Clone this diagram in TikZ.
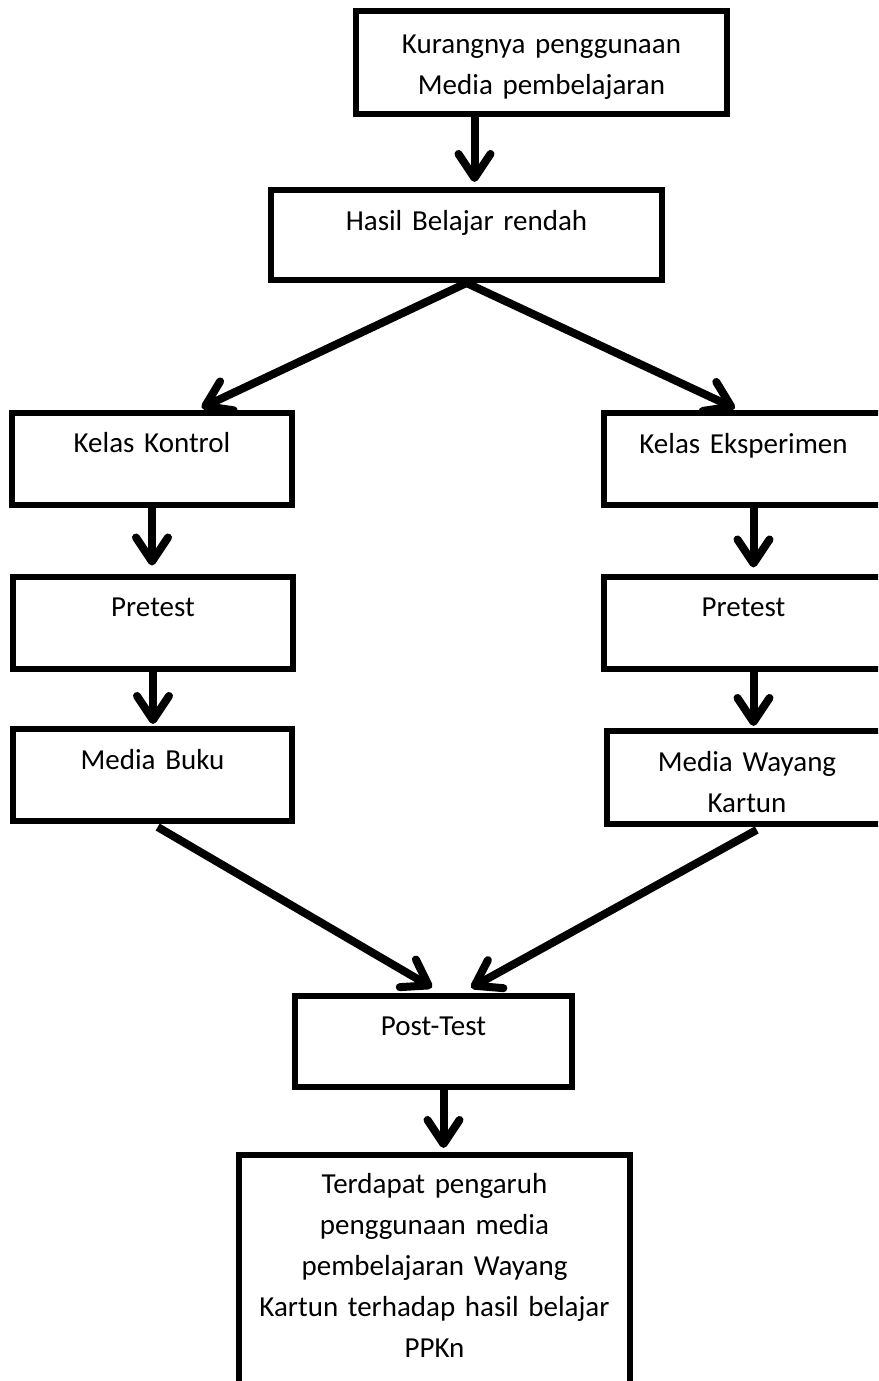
\documentclass[tikz,border=0pt]{standalone}
\usepackage{fontspec}
\setmainfont{Carlito}
\usetikzlibrary{arrows.meta, positioning}

\begin{document}
\begin{tikzpicture}[x=1pt, y=-1pt,
  box/.style={draw, line width=6pt, inner sep=0pt, align=center, text height=40pt, text depth=52pt, font=\fontsize{29}{41}\selectfont},
  arrow/.style={line width=8pt, -{Straight Barb[length=24pt, width=32pt, round]}, shorten >=4pt}]

\useasboundingbox (0,0) rectangle (878,1381);
\clip (0,0) rectangle (878,1381);

\node[box, text width=371pt, text height=42pt, text depth=61pt] (masalah) at (541.5,62.5) {Kurangnya penggunaan\\Media pembelajaran};
\node[box, text width=391pt, text depth=50pt] (hasil) at (466.5,235) {Hasil Belajar rendah};

\node[box, text width=280pt] (kontrol) at (152,458.5) {Kelas Kontrol};
\node[box, text width=280pt] (pretestK) at (153,622.5) {Pretest};
\node[box, text width=279pt] (buku) at (152.5,775) {Media Buku};

\node[box, text width=279pt] (eksperimen) at (743.5,459) {Kelas Eksperimen};
\node[box, text width=279pt] (pretestE) at (743.5,622.5) {Pretest};
\node[box, text width=280pt, text depth=53pt] (wayang) at (747,777.5) {Media Wayang\\Kartun};

\node[box, text width=277pt, text height=39pt] (posttest) at (433.5,1041.5) {Post-Test};
\node[box, text width=391pt, text height=38pt, text depth=230pt] (kesimpulan) at (434.5,1289) {Terdapat pengaruh\\penggunaan media\\pembelajaran Wayang\\Kartun terhadap hasil belajar\\PPKn};

\draw[arrow, shorten >=5pt] ([xshift=8pt]hasil.north |- masalah.south) -- ([xshift=8pt]hasil.north);
\draw[arrow] (hasil.south) -- ([xshift=46pt]kontrol.north);
\draw[arrow] (hasil.south) -- ([xshift=-5pt]eksperimen.north);

\draw[arrow, shorten >=8pt] (kontrol.south) -- (kontrol.south |- pretestK.north);
\draw[arrow, shorten >=2pt] (pretestK.south) -- (pretestK.south |- buku.north);
\draw[arrow, shorten >=6pt] ([xshift=10pt]eksperimen.south) -- ([xshift=10pt]pretestE.north);
\draw[arrow, shorten >=2pt] ([xshift=10pt]pretestE.south) -- ([xshift=10pt]pretestE.south |- wayang.north);

\draw[arrow, shorten <=6pt, shorten >=11pt] (buku.south) -- ([xshift=8pt]posttest.north);
\draw[arrow, shorten <=6pt, shorten >=11pt] ([xshift=15pt]wayang.south) -- ([xshift=28pt]posttest.north);
\draw[arrow] ([xshift=10pt]posttest.south) -- ([xshift=10pt]posttest.south |- kesimpulan.north);

\end{tikzpicture}
\end{document}
